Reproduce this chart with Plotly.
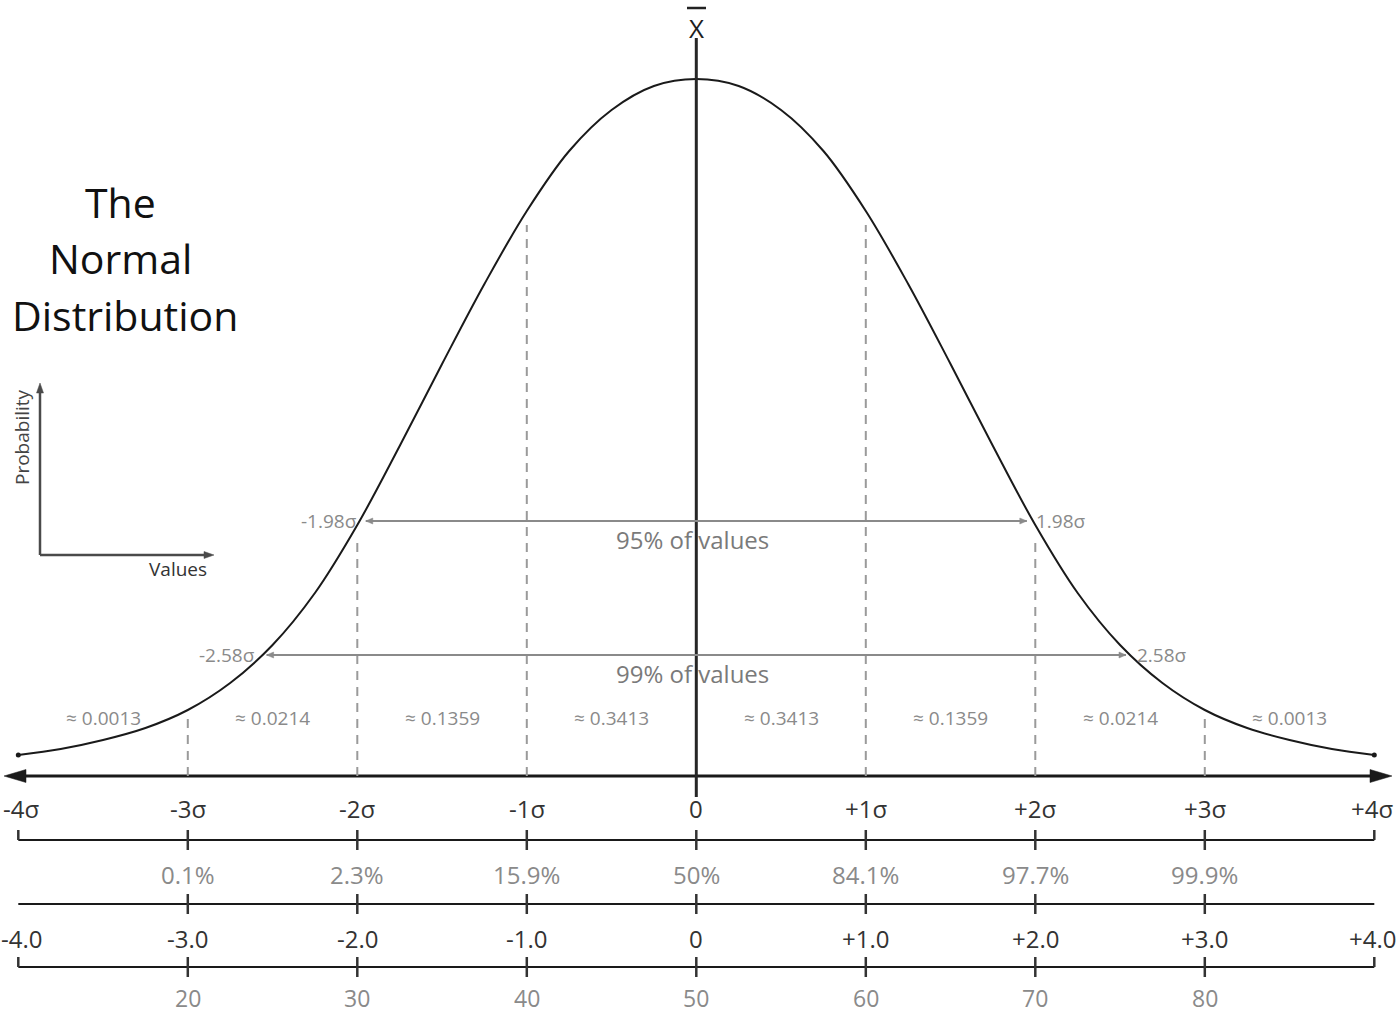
import plotly.graph_objects as go

# ---------------- data ----------------
# curve height above the axis line (in pixels of the original drawing) at each sigma
curve_sigma = [-4, -3.75, -3.5, -3.25, -3, -2.75, -2.5, -2.25, -2, -1.75, -1.5, -1.25, -1, -0.75, -0.5, -0.25,
               0, 0.25, 0.5, 0.75, 1, 1.25, 1.5, 1.75, 2, 2.25, 2.5, 2.75, 3, 3.25, 3.5, 3.75, 4]
curve_height = [21, 27, 36, 48, 66, 93, 131, 183, 251, 330, 412, 492, 565, 625, 666, 690,
                697, 690, 666, 625, 565, 492, 412, 330, 251, 183, 131, 93, 66, 48, 36, 27, 21]

sigma_ticks = [-4, -3, -2, -1, 0, 1, 2, 3, 4]
sigma_labels = ["-4σ", "-3σ", "-2σ", "-1σ", "0", "+1σ", "+2σ", "+3σ", "+4σ"]
z_labels = ["-4.0", "-3.0", "-2.0", "-1.0", "0", "+1.0", "+2.0", "+3.0", "+4.0"]

inner_ticks = [-3, -2, -1, 0, 1, 2, 3]
cum_pct_labels = ["0.1%", "2.3%", "15.9%", "50%", "84.1%", "97.7%", "99.9%"]
t_labels = ["20", "30", "40", "50", "60", "70", "80"]

area_centers = [-3.5, -2.5, -1.5, -0.5, 0.5, 1.5, 2.5, 3.5]
area_labels = ["≈ 0.0013", "≈ 0.0214", "≈ 0.1359", "≈ 0.3413",
               "≈ 0.3413", "≈ 0.1359", "≈ 0.0214", "≈ 0.0013"]

dashed_sigma = [-3, -2, -1, 1, 2, 3]
dashed_top = [57, 233, 551, 551, 233, 58]

interval_z = [1.98, 2.58]
interval_text = ["95% of values", "99% of values"]

# ---------------- geometry helpers ----------------
W, H = 1398, 1016
PX0, PXS, BASE = 696.3, 169.5, 776.0


def sx(px):
    return (px - PX0) / PXS


def sy(py):
    return BASE - py


DARK = "#1a1a1a"
GREY = "#8a8a8a"
FONT = "Open Sans"

fig = go.Figure()

# the bell curve
fig.add_trace(go.Scatter(x=curve_sigma, y=curve_height, mode="lines",
                         line=dict(color=DARK, width=2, shape="spline", smoothing=1.0),
                         hoverinfo="skip"))
fig.add_trace(go.Scatter(x=[curve_sigma[0], curve_sigma[-1]], y=[curve_height[0], curve_height[-1]],
                         mode="markers", marker=dict(color=DARK, size=5), hoverinfo="skip"))

shapes = []
annotations = []


def line(x0, y0, x1, y1, color=DARK, width=2, dash=None):
    d = dict(type="line", xref="x", yref="y", x0=x0, y0=y0, x1=x1, y1=y1,
             line=dict(color=color, width=width), layer="above")
    if dash:
        d["line"]["dash"] = dash
    shapes.append(d)


def arrowhead(tip_px, tip_py, direction, length, half, color=DARK):
    # triangle drawn in pixel geometry, converted to data coordinates
    if direction == "left":
        pts = [(tip_px, tip_py), (tip_px + length, tip_py - half), (tip_px + length, tip_py + half)]
    elif direction == "right":
        pts = [(tip_px, tip_py), (tip_px - length, tip_py - half), (tip_px - length, tip_py + half)]
    else:  # up
        pts = [(tip_px, tip_py), (tip_px - half, tip_py + length), (tip_px + half, tip_py + length)]
    path = "M " + " L ".join(f"{sx(a):.5f},{sy(b):.3f}" for a, b in pts) + " Z"
    shapes.append(dict(type="path", xref="x", yref="y", path=path,
                       fillcolor=color, line=dict(color=color, width=0.5), layer="above"))


def text(x, y, s, size, color=DARK, xanchor="center", yanchor="middle", angle=0, xshift=0):
    annotations.append(dict(x=x, y=y, xref="x", yref="y", text=s, showarrow=False,
                            xanchor=xanchor, yanchor=yanchor, textangle=angle, xshift=xshift,
                            font=dict(family=FONT, size=size, color=color)))


# main horizontal axis with arrows
line(sx(16), 0, sx(1382), 0, color=DARK, width=3)
arrowhead(4, 776, "left", 22, 6.5)
arrowhead(1392, 776, "right", 22, 6.5)

# mean line and X-bar
line(0, sy(797), 0, sy(38), color="#262626", width=3)
text(0, sy(28), "X", 26, color="#1e1e1e")
line(sx(687), sy(8), sx(706), sy(8), color="#222222", width=2.5)

# dashed sigma lines
for s, top in zip(dashed_sigma, dashed_top):
    line(s, 0, s, top, color="#9a9a9a", width=2, dash="9px,7px")

# 95% / 99% intervals
interval_py = [521, 655]
for z, lab, py in zip(interval_z, interval_text, interval_py):
    tip = z - 0.03 if z < 2 else z - 0.045
    line(-tip, sy(py), tip, sy(py), color=GREY, width=2)
    arrowhead(PX0 - tip * PXS, py, "left", 7, 3, color=GREY)
    arrowhead(PX0 + tip * PXS, py, "right", 7, 3, color=GREY)
    text(-z - 0.01, sy(py), f"-{z:.2f}σ", 19, color=GREY, xanchor="right")
    text(z + 0.01, sy(py), f"{z:.2f}σ", 19, color=GREY, xanchor="left")
    text(sx(692), sy(py + 18), lab, 24, color="#7a7a7a")

# area labels
for c, lab in zip(area_centers, area_labels):
    text(c, sy(718), lab, 19, color=GREY)

# bottom scale rows
row_line_py = [840, 904, 967]
for r, py in enumerate(row_line_py):
    line(sigma_ticks[0], sy(py), sigma_ticks[-1], sy(py), color=DARK, width=2)
    for t in inner_ticks:
        line(t, sy(py - 10), t, sy(py + 10), color="#333333", width=2.5)
    if r != 1:
        for t in (sigma_ticks[0], sigma_ticks[-1]):
            line(t, sy(py - 10), t, sy(py), color="#333333", width=2.5)


def edge_shift(i, n):
    return 3 if i == 0 else (-2 if i == n - 1 else 0)


for i, (t, lab) in enumerate(zip(sigma_ticks, sigma_labels)):
    text(t, sy(808), lab, 24, color="#333333", xshift=edge_shift(i, len(sigma_ticks)))
for t, lab in zip(inner_ticks, cum_pct_labels):
    text(t, sy(874), lab, 24, color=GREY)
for i, (t, lab) in enumerate(zip(sigma_ticks, z_labels)):
    text(t, sy(938), lab, 24, color="#333333", xshift=edge_shift(i, len(sigma_ticks)))
for t, lab in zip(inner_ticks, t_labels):
    text(t, sy(1015.5), lab, 23, color=GREY, yanchor="bottom")

# title
text(sx(120), sy(202), "The", 41, color="#111111")
text(sx(120), sy(258), "Normal", 41, color="#111111")
text(sx(125), sy(315), "Distribution", 41, color="#111111")

# small inset axes
line(sx(40), sy(555), sx(40), sy(392), color="#4a4a4a", width=2.5)
line(sx(40), sy(555), sx(205), sy(555), color="#4a4a4a", width=2.5)
arrowhead(40, 383, "up", 10, 3.5, color="#4a4a4a")
arrowhead(214, 555, "right", 10, 3.5, color="#4a4a4a")
text(sx(22), sy(437), "Probability", 19, color="#444444", angle=-90)
text(sx(178), sy(569), "Values", 19, color="#333333")

fig.update_layout(
    width=W, height=H, autosize=False,
    margin=dict(l=0, r=0, t=0, b=0, pad=0),
    paper_bgcolor="white", plot_bgcolor="white",
    showlegend=False,
    xaxis=dict(range=[sx(0), sx(W)], visible=False, fixedrange=True),
    yaxis=dict(range=[sy(H), sy(0)], visible=False, fixedrange=True),
    shapes=shapes, annotations=annotations,
)

fig.write_html("out.html", config={"displayModeBar": False},
               post_script="document.body.style.margin='0px';")
